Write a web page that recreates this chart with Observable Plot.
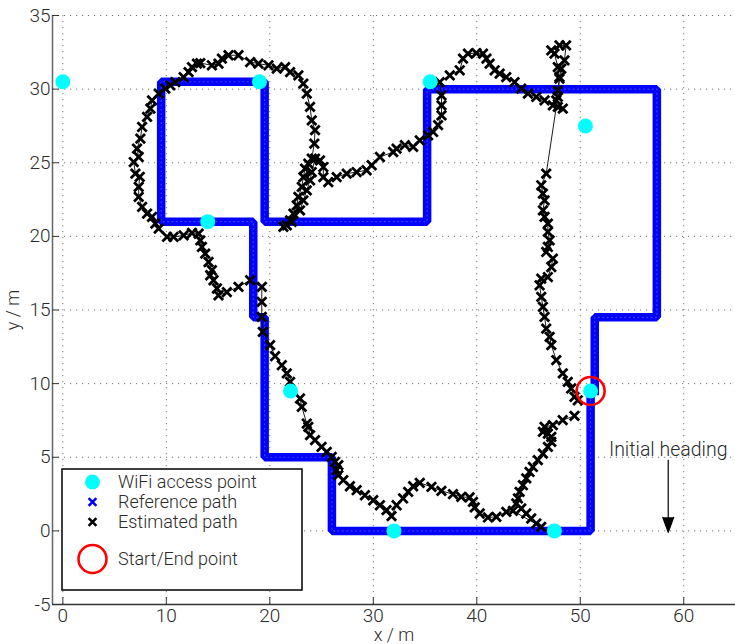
<!DOCTYPE html>
<html>
<head>
<meta charset="utf-8">
<script src="https://cdn.jsdelivr.net/npm/d3@7"></script>
<script src="https://cdn.jsdelivr.net/npm/@observablehq/plot@0.6"></script>
<style>
  body { margin: 0; background: #fff; }
  #chart { position: relative; width: 735px; height: 644px; }
  #chart svg { display: block; }
  #chart svg [aria-label="x-axis label"] text, #chart svg [aria-label="y-axis label"] text { font-size: 18px; }
</style>
</head>
<body>
<div id="chart"></div>
<script>
// Axis extents and tick values (metres)
const xDomain = [-1, 65];
const yDomain = [-5, 35];
const xTicks = [0, 10, 20, 30, 40, 50, 60];
const yTicks = [-5, 0, 5, 10, 15, 20, 25, 30, 35];

// WiFi access point locations [x, y]
const wifiPoints = [
  [0, 30.5], [19, 30.5], [35.5, 30.5], [50.5, 27.5], [14, 21],
  [22, 9.5], [51, 9.5], [32, 0], [47.5, 0]
];

// Start / end of the walk
const startEnd = [[51, 9.5]];

// Corners of the reference (ground truth) walking route
const referencePath = [
  [51, 9.5], [51, 0], [26, 0], [26, 5], [19.5, 5], [19.5, 14.5], [18.4, 14.5],
  [18.4, 21], [9.5, 21], [9.5, 30.5], [19.5, 30.5], [19.5, 21], [35.2, 21],
  [35.2, 30], [57.4, 30], [57.4, 14.5], [51.4, 14.5], [51.4, 9.5]
];

// Estimated positions along the walk, in time order
const estimatedPath = [
  [49.44, 7.81], [48.3, 7.52], [47.35, 7.18], [46.55, 7.06], [46.39, 6.72], [46.87, 6.61],
  [47.2, 6.38], [47.2, 6.04], [46.87, 5.7], [46.39, 5.25], [45.9, 4.8], [45.42, 4.34],
  [45.1, 4.0], [44.78, 3.56], [44.46, 3.1], [44.14, 2.65], [43.98, 2.2], [43.82, 1.86],
  [44.3, 1.52], [44.78, 1.18], [45.26, 0.84], [45.75, 0.5], [46.23, 0.27],
  [43.49, 1.36], [42.85, 1.29], [41.89, 0.95], [41.08, 0.91], [40.28, 1.18], [39.8, 1.59],
  [39.63, 1.97], [39.3, 2.27], [38.5, 2.31], [37.7, 2.49], [36.58, 2.72], [35.62, 2.99],
  [34.49, 3.26], [33.85, 3.03], [33.37, 2.65], [32.88, 2.2], [32.25, 1.74], [31.76, 1.0],
  [31.28, 1.41], [30.64, 1.74], [29.99, 2.08], [29.19, 2.42], [28.39, 2.76], [27.74, 3.03],
  [27.1, 3.44], [26.62, 3.78], [26.46, 4.12], [26.62, 4.46], [26.3, 4.68], [25.98, 5.02],
  [25.5, 5.36], [25.0, 5.7], [24.37, 6.16], [23.89, 6.5], [23.72, 7.06], [23.57, 7.29],
  [23.09, 8.42], [22.92, 8.99], [21.96, 10.12], [21.64, 10.69], [21.16, 11.25], [20.51, 11.86],
  [20.03, 12.61], [19.32, 13.51], [19.22, 14.53], [19.22, 15.55], [19.23, 16.57], [18.1, 17.02],
  [16.97, 16.57], [15.85, 16.22], [15.04, 16.0], [14.89, 16.46], [14.56, 17.02], [14.24, 17.36],
  [14.4, 17.7], [14.08, 18.26], [13.76, 18.83], [13.44, 19.28], [13.28, 19.73], [13.12, 20.19],
  [12.48, 20.23], [11.67, 20.07], [10.7, 19.96], [10.07, 19.96], [9.26, 20.53], [8.94, 20.87],
  [8.62, 21.32], [8.14, 21.55], [7.66, 22.0], [7.33, 22.68], [7.33, 23.36], [7.43, 24.04],
  [7.01, 24.26], [6.85, 25.05], [7.33, 25.39], [7.17, 25.96], [7.49, 26.64], [7.66, 27.43],
  [8.14, 28.11], [8.46, 28.68], [8.62, 29.24], [9.26, 29.7], [9.9, 30.04], [10.39, 30.26],
  [10.87, 30.48], [11.67, 30.82], [12.15, 31.16], [12.48, 31.5], [12.96, 31.73], [13.28, 31.77],
  [14.4, 31.62], [15.04, 31.73], [15.37, 32.07], [16.01, 32.3], [16.97, 32.3], [18.1, 31.84],
  [18.9, 31.73], [19.87, 31.62], [20.67, 31.39], [21.48, 31.5], [21.96, 31.16], [22.76, 30.94],
  [23.24, 30.37], [23.57, 29.7], [23.89, 28.79], [24.05, 27.88], [24.37, 27.21], [24.3, 26.3],
  [24.05, 25.28], [23.72, 24.94], [23.4, 24.6], [23.24, 24.03], [23.09, 23.36], [22.76, 22.68],
  [22.6, 22.11], [22.28, 21.55], [21.96, 21.09], [21.31, 20.64], [21.64, 20.75], [22.12, 20.98],
  [22.92, 21.77], [23.24, 22.45], [23.57, 23.13], [23.89, 23.81], [24.05, 24.37], [24.37, 25.28],
  [24.85, 25.16], [25.17, 24.71], [25.17, 24.03], [25.65, 23.69], [26.46, 24.03], [27.43, 24.26],
  [28.39, 24.37], [29.35, 24.49], [29.84, 24.83], [30.64, 25.39], [31.92, 25.73], [32.25, 25.96],
  [33.05, 26.19], [33.85, 26.08], [34.49, 26.52], [35.3, 26.86], [35.78, 27.09], [36.26, 27.55],
  [36.59, 28.22], [36.59, 28.9], [36.59, 29.58], [36.42, 30.48], [37.39, 30.94], [38.35, 31.28],
  [38.67, 32.07], [39.15, 32.41], [39.96, 32.45], [40.6, 32.41], [40.93, 32.07], [41.24, 31.73],
  [41.73, 31.28], [42.21, 31.05], [42.85, 30.82], [43.65, 30.48], [44.3, 30.03], [44.94, 29.7],
  [45.75, 29.47], [46.55, 29.24], [47.35, 28.9], [47.83, 28.79], [48.31, 28.68],
  [47.68, 29.24], [47.83, 29.92], [47.99, 30.71], [47.83, 31.5], [47.51, 32.41], [47.2, 32.63],
  [47.99, 32.97], [48.63, 32.97], [48.47, 31.95], [48.16, 31.39], [47.99, 30.82], [47.83, 29.47],
  [46.71, 24.26], [46.23, 23.47], [46.39, 22.9], [46.55, 22.45], [46.39, 21.77], [46.55, 21.32],
  [46.87, 20.87], [46.87, 20.3], [47.04, 19.73], [46.87, 19.28], [46.71, 18.94], [47.35, 18.49],
  [47.2, 17.92], [46.87, 17.24], [46.23, 17.13], [46.07, 16.68], [46.23, 15.89], [46.39, 15.21],
  [46.55, 14.53], [46.71, 13.74], [47.04, 13.17], [47.2, 12.61], [47.68, 11.59], [48.31, 10.69],
  [48.79, 10.12], [49.12, 9.67], [49.44, 9.1], [49.76, 8.87]
];

// Initial heading annotation: arrow from top to bottom at x
const heading = [{x: 58.5, top: 4.8, bottom: -0.1, label: "Initial heading"}];

// Legend entries
const legendLabels = ["WiFi access point", "Reference path", "Estimated path", "Start/End point"];

const fontFamily = "Roboto, 'Liberation Sans', Arial, sans-serif";
const textColor = "#2a2a2a";
const px = d => d[0];
const py = d => d[1];
const plainNumber = d => `${d}`;

const chart = Plot.plot({
  width: 735,
  height: 644,
  marginLeft: 52,
  marginRight: 0,
  marginTop: 15,
  marginBottom: 40,
  style: {fontFamily, fontSize: "19px", fontWeight: 300, color: textColor, background: "#fff", overflow: "visible"},
  x: {domain: xDomain},
  y: {domain: yDomain},
  marks: [
    Plot.gridX(xTicks, {stroke: "#777", strokeOpacity: 1, strokeWidth: 1, strokeDasharray: "1.2,4.8"}),
    Plot.gridY(yTicks, {stroke: "#777", strokeOpacity: 1, strokeWidth: 1, strokeDasharray: "1.2,4.8"}),
    Plot.ruleX([xDomain[0]], {stroke: "#666", strokeWidth: 1.5}),
    Plot.ruleY([yDomain[0]], {stroke: "#333", strokeWidth: 1.4}),
    Plot.axisX(xTicks, {anchor: "bottom", tickSize: -7, tickPadding: 11, stroke: "#333", fontSize: 19,
      tickFormat: plainNumber, label: "x / m", labelArrow: false, labelAnchor: "center", labelOffset: 36.5}),
    Plot.axisY(yTicks, {anchor: "left", tickSize: -7, tickPadding: 9, stroke: "#333", fontSize: 19,
      tickFormat: plainNumber, label: "y / m", labelArrow: false, labelAnchor: "center", labelOffset: 46}),
    // reference route: dense blue markers rendered as a thick band
    Plot.line(referencePath, {x: px, y: py, stroke: "#0000ff", strokeWidth: 8.5, strokeLinejoin: "miter", strokeLinecap: "square"}),
    Plot.line(referencePath, {x: px, y: py, stroke: "#5a5aff", strokeWidth: 1.2, strokeOpacity: 0.7, strokeDasharray: "1,3.4"}),
    // estimated track
    Plot.line(estimatedPath, {x: px, y: py, stroke: "#000", strokeWidth: 0.9}),
    Plot.dot(estimatedPath, {x: px, y: py, symbol: "times", r: 4.3, stroke: "#000", strokeWidth: 2.8}),
    Plot.dot(wifiPoints, {x: px, y: py, r: 7.5, fill: "#00ffff", stroke: "none"}),
    Plot.dot(startEnd, {x: px, y: py, r: 14, fill: "none", stroke: "#ff0000", strokeWidth: 2.6}),
    Plot.arrow(heading, {x: "x", y1: "top", y2: "bottom", stroke: "#000", fill: "#000", strokeWidth: 1.2, headLength: 20, headAngle: 40}),
    Plot.text(heading, {x: "x", y: "top", text: "label", textAnchor: "middle", lineAnchor: "bottom", dy: -4, fontSize: 19.5, fill: textColor})
  ]
});

document.getElementById("chart").appendChild(chart);

// Legend box drawn inside the plotting area, lower-left corner
const svg = d3.select(chart);
const lg = svg.append("g").attr("transform", "translate(62,469)")
  .style("font-family", fontFamily).style("font-size", "18px").style("font-weight", 300)
  .attr("text-anchor", "start");
lg.append("rect").attr("x", 0).attr("y", 0).attr("width", 240).attr("height", 121)
  .attr("fill", "#fff").attr("stroke", "#000").attr("stroke-width", 1.5);
const symX = 30.5, textX = 56;
const rowsY = [13, 33, 53, 90];
lg.append("circle").attr("cx", symX).attr("cy", rowsY[0]).attr("r", 7.5).attr("fill", "#00ffff");
const cross = d3.symbol(d3.symbolTimes, Math.PI * 3.6 * 3.6);
lg.append("path").attr("d", cross()).attr("transform", `translate(${symX},${rowsY[1]})`)
  .attr("stroke", "#0000ff").attr("stroke-width", 2.6).attr("fill", "none");
lg.append("path").attr("d", cross()).attr("transform", `translate(${symX},${rowsY[2]})`)
  .attr("stroke", "#000").attr("stroke-width", 2.6).attr("fill", "none");
lg.append("circle").attr("cx", symX).attr("cy", rowsY[3]).attr("r", 14)
  .attr("fill", "none").attr("stroke", "#ff0000").attr("stroke-width", 2.6);
lg.selectAll("text.lbl").data(legendLabels).join("text").attr("class", "lbl")
  .attr("x", textX).attr("y", (d, i) => rowsY[i]).attr("dy", "0.35em")
  .attr("text-anchor", "start").attr("fill", textColor).text(d => d);
</script>
</body>
</html>
